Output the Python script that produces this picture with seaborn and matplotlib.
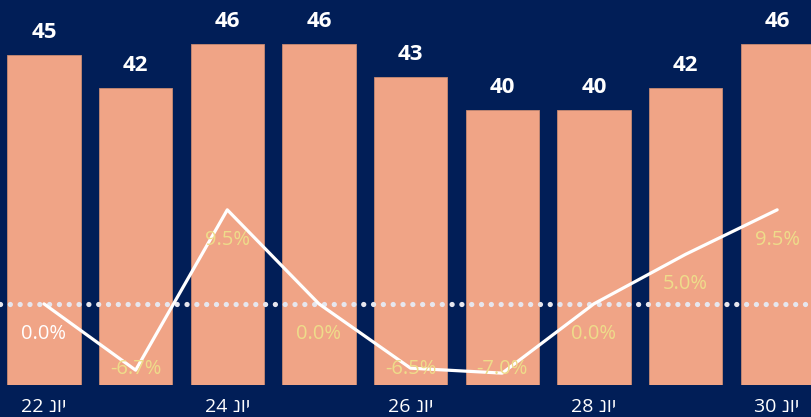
import re
import numpy as np
import pandas as pd
import matplotlib
matplotlib.use("Agg")
import matplotlib.pyplot as plt
import seaborn as sns

# data
days = ["22 יונ", "23 יונ", "24 יונ", "25 יונ", "26 יונ",
        "27 יונ", "28 יונ", "29 יונ", "30 יונ"]
counts = [45, 42, 46, 46, 43, 40, 40, 42, 46]
change_pct = [0.0, -6.7, 9.5, 0.0, -6.5, -7.0, 0.0, 5.0, 9.5]

BG = "#011E57"
BAR = "#F0A486"
LABEL_YELLOW = "#EEDC8A"


def visual(text):
    # matplotlib has no bidi: flip each Hebrew run into visual order
    return re.sub(r"[\u0590-\u05FF]+", lambda m: m.group(0)[::-1], text)


sns.set_theme(style="white")
plt.rcParams["font.family"] = ["Open Sans", "DejaVu Sans"]

df = pd.DataFrame({"day": days, "count": counts, "change": change_pct,
                   "pos": np.arange(len(days))})

fig = plt.figure(figsize=(8.12, 4.17), dpi=100, facecolor=BG)
ax = fig.add_axes([0, 32 / 417, 1, 385 / 417])
ax.set_facecolor(BG)

sns.barplot(data=df, x="pos", y="count", color=BAR, saturation=1,
            width=0.8, edgecolor="#C88A72", linewidth=0.6, ax=ax,
            native_scale=True)
ax.set_ylim(15, 50)
ax.set_xlim(-0.48, 8.38)

for p, c in zip(df["pos"], df["count"]):
    ax.annotate(str(c), (p, c), xytext=(0, 8.5), textcoords="offset points",
                ha="center", va="bottom", color="white", fontsize=16,
                fontweight="bold")

# secondary axis: percentage change line
ax2 = ax.twinx()
ax2.patch.set_visible(False)
ax2.set_ylim(-8.2, 30.7)
ax2.axhline(0, color="#E6E6EE", lw=3.8, ls=(0, (0.01, 1.85)),
            dash_capstyle="round", zorder=2)
sns.lineplot(data=df, x="pos", y="change", color="white", lw=2.3,
             ax=ax2, zorder=3)

for i, (p, v) in enumerate(zip(df["pos"], df["change"])):
    col = "white" if i == 0 else LABEL_YELLOW
    ax2.text(p, max(v - 3.0, -6.6), f"{v:.1f}%", ha="center", va="center",
             color=col, fontsize=14.5, zorder=4)

ticks = df["pos"][::2]
ax.set_xticks(ticks)
ax.set_xticklabels([visual(d) for d in df["day"][::2]], color="white",
                   fontsize=14)
ax.tick_params(axis="x", length=0, pad=9)
ax.set_yticks([])
ax2.set_yticks([])
ax.set_xlabel("")
ax.set_ylabel("")
ax2.set_xlabel("")
ax2.set_ylabel("")
for a in (ax, ax2):
    for s in a.spines.values():
        s.set_visible(False)

fig.savefig("out.png", dpi=100, facecolor=BG)
